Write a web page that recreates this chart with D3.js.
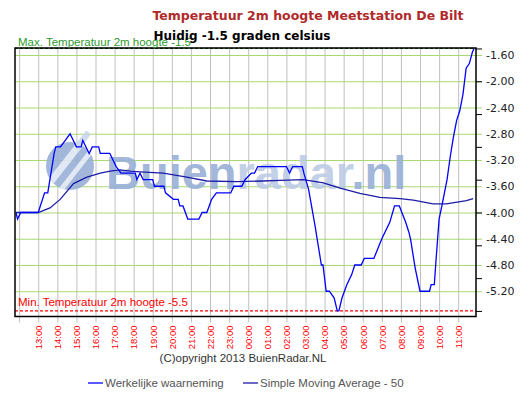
<!DOCTYPE html>
<html>
<head>
<meta charset="utf-8">
<script src="https://cdn.jsdelivr.net/npm/d3@7"></script>
<style>
  body { margin: 0; background: #fff; }
  svg { display: block; }
</style>
</head>
<body>
<div id="main"></div>
<script>
const obsTime = ["11:50","11:55","12:05","13:00","13:20","13:30","13:50","13:55","14:10","14:25",
  "14:40","15:00","15:15","15:20","15:40","15:50","16:10","16:15","16:45","16:55",
  "17:05","17:20","18:05","18:10","18:20","18:30","19:00","19:05","19:35","19:40",
  "20:05","20:20","20:25","20:35","20:50","21:25","21:35","21:50","22:05","22:20",
  "23:05","23:15","23:40","23:50","00:10","00:20","00:30","02:00","02:10","02:20",
  "02:50","02:55","03:10","03:30","03:40","03:50","03:55","04:05","04:15","04:30",
  "04:40","04:45","04:55","05:10","05:25","05:35","05:55","06:05","06:35","07:00",
  "07:25","07:40","07:55","08:15","08:25","08:30","08:45","09:00","09:30","09:35",
  "09:45","09:50","10:00","10:10","10:25","10:35","10:45","10:55","11:05","11:15",
  "11:25","11:35","11:45","11:50"];
const obsTemp = [-4.0,-4.1,-4.0,-4.0,-3.7,-3.7,-3.1,-3.0,-3.0,-2.9,
  -2.8,-3.0,-3.0,-2.9,-3.1,-3.0,-3.0,-3.1,-3.1,-3.2,
  -3.3,-3.4,-3.4,-3.5,-3.4,-3.5,-3.5,-3.6,-3.6,-3.7,
  -3.8,-3.8,-3.9,-3.9,-4.1,-4.1,-4.0,-4.0,-3.8,-3.7,
  -3.7,-3.6,-3.6,-3.5,-3.4,-3.4,-3.3,-3.3,-3.4,-3.3,
  -3.3,-3.4,-3.65,-4.2,-4.5,-4.8,-4.8,-5.2,-5.2,-5.3,
  -5.5,-5.5,-5.3,-5.1,-4.95,-4.8,-4.8,-4.7,-4.7,-4.4,
  -4.15,-3.9,-3.9,-4.15,-4.3,-4.4,-4.85,-5.2,-5.2,-5.1,
  -5.1,-4.75,-4.1,-3.87,-3.5,-3.15,-2.85,-2.6,-2.45,-2.2,
  -1.8,-1.73,-1.55,-1.5];

// Simple Moving Average - 50
const smaTime = ["11:50","13:00","13:37","14:09","14:51","15:33","16:15","16:46","17:17","17:49",
  "18:20","19:33","20:47","21:50","23:24","00:47","01:40","02:53","03:56","04:49",
  "05:51","06:54","07:57","08:39","09:41","10:23","11:26","11:47"];
const smaTemp = [-4.0,-4.0,-3.93,-3.8,-3.56,-3.46,-3.4,-3.37,-3.35,-3.37,
  -3.38,-3.4,-3.46,-3.52,-3.53,-3.52,-3.51,-3.5,-3.55,-3.63,
  -3.71,-3.77,-3.79,-3.81,-3.87,-3.87,-3.82,-3.79];

const hourLabels = ["","13:00","14:00","15:00","16:00","17:00","18:00","19:00","20:00","21:00",
  "22:00","23:00","00:00","01:00","02:00","03:00","04:00","05:00","06:00","07:00",
  "08:00","09:00","10:00","11:00"];
const yLabelTicks = [-1.6,-2.0,-2.4,-2.8,-3.2,-3.6,-4.0,-4.4,-4.8,-5.2];
const yMarkTicks = [-1.5,-2.0,-2.5,-3.0,-3.5,-4.0,-4.5,-5.0,-5.5];
const maxTemp = -1.5, minTemp = -5.5, currentTemp = -1.5;

const width = 528, height = 398;
const plot = {left: 15, right: 476, top: 48, bottom: 316.5};

// turn "HH:MM" strings into dates, rolling over to the next day
function toDates(times) {
  let day = 0, prev = -1;
  return times.map(t => {
    const [h, m] = t.split(":").map(Number);
    const mins = h * 60 + m;
    if (mins < prev) day++;
    prev = mins;
    return new Date(2013, 0, 1 + day, h, m);
  });
}

const obs = toDates(obsTime).map((d, i) => ({t: d, v: obsTemp[i]}));
const sma = toDates(smaTime).map((d, i) => ({t: d, v: smaTemp[i]}));

const x = d3.scaleTime()
  .domain([new Date(2013, 0, 1, 11, 47), new Date(2013, 0, 2, 11, 56)])
  .range([plot.left, plot.right]);
const y = d3.scaleLinear()
  .domain([-5.585, -1.493])
  .range([plot.bottom, plot.top]);

const hours = d3.timeHour.range(new Date(2013, 0, 1, 12), new Date(2013, 0, 2, 12));

const svg = d3.select("#main").append("svg")
  .attr("width", width).attr("height", height)
  .attr("viewBox", [0, 0, width, height]);

svg.append("rect").attr("width", width).attr("height", height).attr("fill", "#fff");

// vertical grid + bottom ticks and labels
const xAxis = svg.append("g")
  .attr("transform", `translate(0,${plot.bottom})`)
  .call(d3.axisBottom(x).tickValues(hours).tickSize(6).tickFormat((d, i) => hourLabels[i]))
  .call(g => g.select(".domain").remove())
  .call(g => g.selectAll(".tick line")
    .attr("y1", -(plot.bottom - plot.top)).attr("y2", 6)
    .attr("stroke", "#c0c0c0"))
  .call(g => g.selectAll(".tick text")
    .attr("transform", "rotate(-90)")
    .attr("x", -9).attr("y", 0).attr("dy", "0.35em")
    .attr("text-anchor", "end")
    .attr("fill", "#ff0000")
    .attr("font-family", "'Liberation Sans', Arial, sans-serif")
    .attr("font-size", 9.5));

// horizontal grid + right labels
svg.append("g")
  .attr("transform", `translate(${plot.right},0)`)
  .call(d3.axisRight(y).tickValues(yLabelTicks).tickSize(6).tickPadding(4)
    .tickFormat(d => d.toFixed(2)))
  .call(g => g.select(".domain").remove())
  .call(g => g.selectAll(".tick line")
    .attr("x1", -(plot.right - plot.left)).attr("x2", 6)
    .attr("stroke", "#a9d871"))
  .call(g => g.selectAll(".tick text")
    .attr("fill", "#222")
    .attr("font-family", "'DejaVu Sans', Verdana, sans-serif")
    .attr("font-size", 11));

svg.append("g")
  .attr("transform", `translate(${plot.right},0)`)
  .call(d3.axisRight(y).tickValues(yMarkTicks).tickSize(6).tickFormat(""))
  .call(g => g.select(".domain").remove())
  .call(g => g.selectAll(".tick line").attr("stroke", "#000"));

// watermark
const wm = svg.append("g").attr("opacity", 0.9);
const logo = wm.append("g").attr("transform", "translate(70,166)");
logo.append("clipPath").attr("id", "logoClip")
  .append("circle").attr("r", 24);
logo.append("circle").attr("r", 24).attr("fill", "#98b0d6");
logo.append("g").attr("clip-path", "url(#logoClip)")
  .selectAll("rect").data([-9, 5]).join("rect")
  .attr("x", -40).attr("width", 80)
  .attr("y", d => d).attr("height", d => d < 0 ? 7 : 5)
  .attr("transform", "rotate(-52)")
  .attr("fill", "#dfe7f3");
logo.append("rect").attr("x", 18).attr("y", -9).attr("width", 20).attr("height", 6)
  .attr("transform", "rotate(-52)").attr("fill", "#c9d7ec");
const wmText = wm.append("text")
  .attr("x", 106).attr("y", 189)
  .attr("font-family", "'Liberation Sans', Arial, sans-serif")
  .attr("font-weight", "bold").attr("font-size", 47);
wmText.append("tspan").attr("fill", "#98b0d6").text("Buien");
wmText.append("tspan").attr("fill", "#bccbe6").text("radar");
wmText.append("tspan").attr("fill", "#98b0d6").text(".nl");

// max / min reference lines
svg.append("line")
  .attr("x1", plot.left).attr("x2", plot.right)
  .attr("y1", y(maxTemp)).attr("y2", y(maxTemp))
  .attr("stroke", "#006400").attr("stroke-width", 1.3).attr("stroke-dasharray", "3,2");
svg.append("line")
  .attr("x1", plot.left).attr("x2", plot.right)
  .attr("y1", y(minTemp)).attr("y2", y(minTemp))
  .attr("stroke", "#ff0000").attr("stroke-width", 1.3).attr("stroke-dasharray", "3,2");

const line = d3.line().x(d => x(d.t)).y(d => y(d.v));

svg.append("path").datum(sma)
  .attr("fill", "none").attr("stroke", "#1c1ca8").attr("stroke-width", 1.3)
  .attr("d", line);
svg.append("path").datum(obs)
  .attr("fill", "none").attr("stroke", "#0000ff").attr("stroke-width", 1.3)
  .attr("d", line);

// plot border
svg.append("rect")
  .attr("x", plot.left).attr("y", plot.top)
  .attr("width", plot.right - plot.left).attr("height", plot.bottom - plot.top)
  .attr("fill", "none").attr("stroke", "#000").attr("stroke-width", 1.5);

const sans = "'Liberation Sans', Arial, sans-serif";

svg.append("text")
  .attr("x", 18).attr("y", 46)
  .attr("font-family", sans).attr("font-size", 11.5).attr("fill", "#2f9a2f")
  .text("Max. Temperatuur 2m hoogte " + maxTemp);
svg.append("text")
  .attr("x", 18).attr("y", 306)
  .attr("font-family", sans).attr("font-size", 11.5).attr("fill", "#ff0000")
  .text("Min. Temperatuur 2m hoogte " + minTemp);

svg.append("text")
  .attr("x", 308).attr("y", 20)
  .attr("text-anchor", "middle")
  .attr("font-family", "'DejaVu Sans', Verdana, sans-serif")
  .attr("font-weight", "bold").attr("font-size", 12.5).attr("fill", "#b02a2a")
  .text("Temperatuur 2m hoogte Meetstation De Bilt");
svg.append("text")
  .attr("x", 242).attr("y", 40)
  .attr("text-anchor", "middle")
  .attr("font-family", "'DejaVu Sans', Verdana, sans-serif")
  .attr("font-weight", "bold").attr("font-size", 12).attr("fill", "#000")
  .text("Huidig " + currentTemp + " graden celsius");

svg.append("text")
  .attr("x", 243).attr("y", 362)
  .attr("text-anchor", "middle")
  .attr("font-family", sans).attr("font-size", 11.5).attr("fill", "#333")
  .text("(C)opyright 2013 BuienRadar.NL");

// legend
const legend = svg.append("g").attr("font-family", sans).attr("font-size", 11.5).attr("fill", "#555");
const items = [
  {label: "Werkelijke waarneming", color: "#0000ff", x: 88},
  {label: "Simple Moving Average - 50", color: "#1c1ca8", x: 243}
];
items.forEach(it => {
  legend.append("line")
    .attr("x1", it.x).attr("x2", it.x + 15)
    .attr("y1", 383).attr("y2", 383)
    .attr("stroke", it.color).attr("stroke-width", 1.3);
  legend.append("text")
    .attr("x", it.x + 17).attr("y", 387)
    .text(it.label);
});
</script>
</body>
</html>
